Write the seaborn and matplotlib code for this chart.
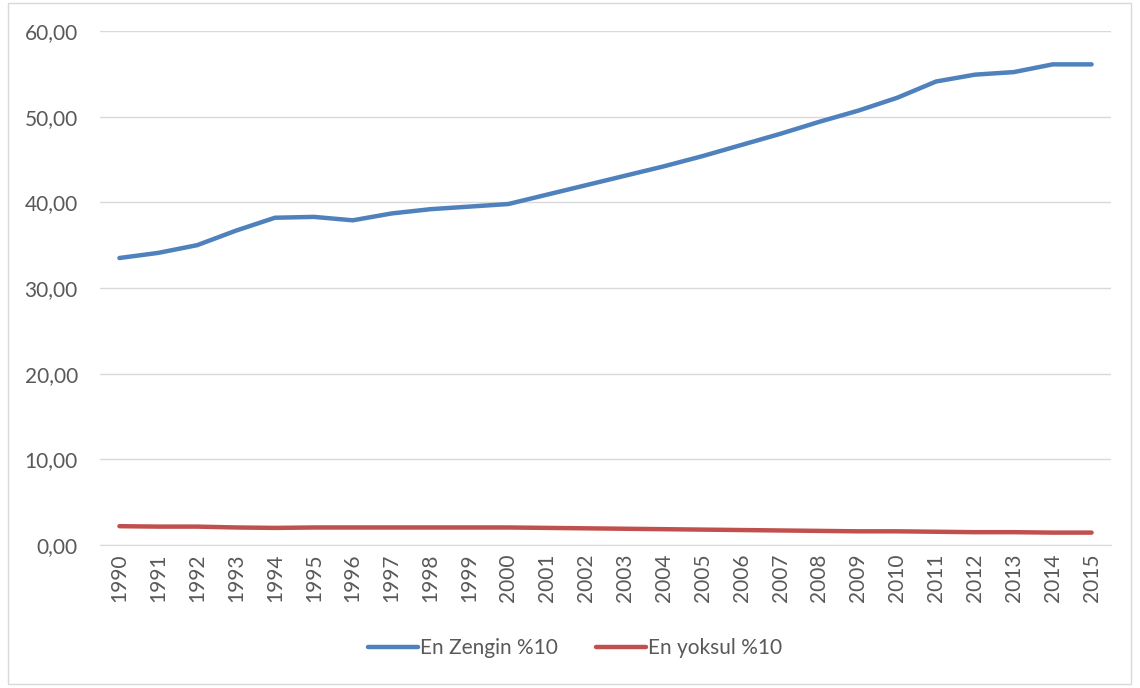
import pandas as pd
import seaborn as sns
import matplotlib.pyplot as plt
from matplotlib.patches import Rectangle

years = list(range(1990, 2016))
zengin = [33.5, 34.1, 35.0, 36.7, 38.2, 38.3, 37.9, 38.7, 39.2, 39.5,
          39.8, 40.9, 42.0, 43.1, 44.2, 45.4, 46.7, 48.0, 49.4, 50.7,
          52.2, 54.1, 54.9, 55.2, 56.1, 56.1]
yoksul = [2.2, 2.15, 2.15, 2.05, 2.0, 2.05, 2.05, 2.05, 2.05, 2.05,
          2.05, 2.0, 1.95, 1.9, 1.85, 1.8, 1.75, 1.7, 1.65, 1.6,
          1.6, 1.55, 1.5, 1.5, 1.45, 1.45]
series_names = ["En Zengin %10", "En yoksul %10"]
y_ticks = [0, 10, 20, 30, 40, 50, 60]

df = pd.DataFrame({
    "Yıl": years * 2,
    "Değer": zengin + yoksul,
    "Seri": [series_names[0]] * len(years) + [series_names[1]] * len(years),
})

sns.set_style("white")
plt.rcParams["font.family"] = ["Lato", "DejaVu Sans"]

fig = plt.figure(figsize=(11.4, 6.88), dpi=100)
ax = fig.add_axes([0.0877, 0.2078, 0.8869, 0.7472])

sns.lineplot(data=df, x="Yıl", y="Değer", hue="Seri",
             palette=["#4f81bd", "#c0504d"], linewidth=3.2,
             solid_capstyle="round", ax=ax, legend=True)

ax.set_xlim(1989.5, 2015.5)
ax.set_ylim(0, 60)
ax.set_yticks(y_ticks)
ax.set_yticklabels([f"{v:.2f}".replace(".", ",") for v in y_ticks])
ax.set_xticks(years)
ax.set_xticklabels([str(y) for y in years], rotation=90)
ax.yaxis.grid(True, color="#d9d9d9", linewidth=1)
ax.set_xlabel("")
ax.set_ylabel("")
for side in ["top", "right", "left"]:
    ax.spines[side].set_visible(False)
ax.spines["bottom"].set_color("#d9d9d9")
ax.tick_params(axis="both", length=0, labelsize=15, colors="#595959")
ax.tick_params(axis="y", pad=16)
ax.tick_params(axis="x", pad=6)

leg = ax.legend(loc="center", bbox_to_anchor=(0.47, -0.2), ncol=2,
                frameon=False, fontsize=15, handlelength=2.4,
                columnspacing=1.8, handletextpad=0.1)
for t in leg.get_texts():
    t.set_color("#595959")

fig.patches.append(Rectangle((0.007, 0.006), 0.985, 0.99, transform=fig.transFigure,
                             fill=False, edgecolor="#d9d9d9", linewidth=1))

fig.savefig("out.png", dpi=100)
